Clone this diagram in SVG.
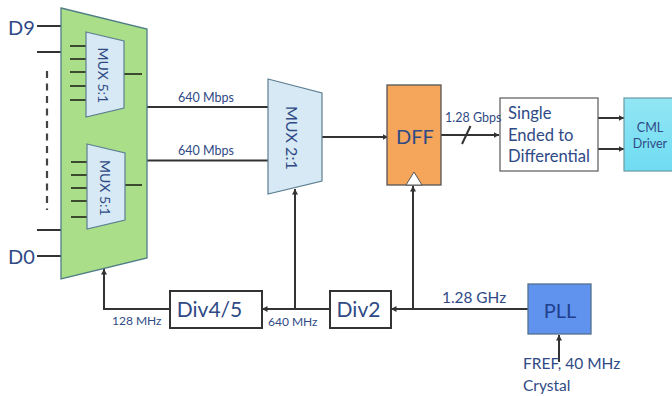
<svg xmlns="http://www.w3.org/2000/svg" width="672" height="396" viewBox="0 0 672 396">
<defs>
<marker id="ah" markerUnits="userSpaceOnUse" markerWidth="8" markerHeight="8" refX="5.500" refY="3" orient="auto"><path d="M0 0L5.500 3L0 6z" fill="#333"/></marker>
<linearGradient id="cml" x1="0" y1="0" x2="0" y2="1"><stop offset="0" stop-color="#92e6f4"/><stop offset="1" stop-color="#6fdcf2"/></linearGradient>
</defs>
<style>
text{font-family:"Lato","Open Sans","Liberation Sans",sans-serif;fill:#2f4a85}
.l{stroke:#333;stroke-width:2;fill:none}
.a{marker-end:url(#ah)}
.pin{stroke:#3c4a30;stroke-width:1.8;fill:none}
.mux{fill:#d6e9f4;stroke:#5c7f92;stroke-width:1.2}
.box{fill:#fff;stroke:#333;stroke-width:2}
.s{font-size:12.500px}
.m{font-size:21px}
</style>
<rect width="672" height="396" fill="#fff"/>
<g id="connectors">
<path class="l" d="M37 26H61M37 52H61M37 230H61M37 256H61"/>
<path d="M47 71V210" stroke="#444" stroke-width="2.200" stroke-dasharray="7 5.500" fill="none"/>
<path class="l" d="M147 107H268M147 160.500H268"/>
<path class="l a" d="M322 137H388"/>
<path class="l a" d="M441 135H499"/>
<path class="l" d="M462 144L470.500 126" stroke-width="1.800"/>
<path class="l a" d="M598 118H624"/>
<path class="l a" d="M598 149H624"/>
<path class="l a" d="M413 309V186"/>
<path class="l a" d="M528 309H391"/>
<path class="l a" d="M330 309H262"/>
<path class="l a" d="M295 309V189"/>
<path class="l a" d="M170 309H104V269"/>
<path class="l a" d="M559 362V335" stroke-width="1.600"/>
</g>
<g id="mux-outer"><path d="M61 8L147 29V258L61 279z" fill="#aade88" stroke="#4f7f86" stroke-width="1.300"/></g>
<g id="mux-a">
<path class="pin" d="M70 46H86M70 59H86M70 72H86M70 86H86M70 100H86M124 74H142"/>
<path class="mux" d="M86 32L124 41V108L86 117z"/>
<text transform="translate(98 47.500) rotate(90)" style="font-size:14px">MUX 5:1</text>
</g>
<g id="mux-b">
<path class="pin" d="M71 162H87M71 175H87M71 188H87M71 201H87M71 217H87M125 185H142"/>
<path class="mux" d="M87 144L125 153V220L87 229z"/>
<text transform="translate(99.500 160) rotate(90)" style="font-size:14px">MUX 5:1</text>
</g>
<g id="mux-2"><path class="mux" d="M268 79L322 93V181L268 194z"/><text transform="translate(286 106) rotate(90)" style="font-size:16px">MUX 2:1</text></g>
<g id="dff"><rect x="387" y="85" width="54" height="100" fill="#f5a65b" stroke="#555" stroke-width="1.300"/><path d="M406 185L414 172L422 185z" fill="#fff" stroke="#555" stroke-width="1"/><text x="415" y="144" text-anchor="middle" style="font-size:20px">DFF</text></g>
<g id="s2d"><rect x="500" y="98" width="98" height="73" fill="#fff" stroke="#666" stroke-width="1.300"/><text x="508" y="119" style="font-size:16.600px">Single</text><text x="508" y="141" style="font-size:16.600px">Ended to</text><text x="508" y="162" style="font-size:16.600px">Differential</text></g>
<g id="cml-driver"><rect x="624" y="98" width="50" height="73" fill="url(#cml)" stroke="#6a9aa5" stroke-width="1.200"/><text x="650" y="132" text-anchor="middle" style="font-size:12.500px">CML</text><text x="650" y="148" text-anchor="middle" style="font-size:12.500px">Driver</text></g>
<g id="div45"><rect x="170" y="291" width="92" height="37" class="box"/><text x="209.500" y="317" text-anchor="middle" class="m">Div4/5</text></g>
<g id="div2"><rect x="330" y="291" width="61" height="37" class="box"/><text x="358.500" y="317" text-anchor="middle" class="m">Div2</text></g>
<g id="pll"><rect x="528" y="284" width="63" height="50" fill="#5f93ee" stroke="#54708f" stroke-width="1.300"/><text x="560" y="318" text-anchor="middle" style="font-size:20px;fill:#1f3f8f">PLL</text></g>
<g id="labels">
<text x="8" y="35" style="font-size:20px">D9</text>
<text x="8" y="264" style="font-size:20px">D0</text>
<text x="178" y="102" class="s">640 Mbps</text>
<text x="178" y="154.500" class="s">640 Mbps</text>
<text x="445" y="122" class="s">1.28 Gbps</text>
<text x="442" y="303" style="font-size:15.400px">1.28 GHz</text>
<text x="112" y="325" style="font-size:12px">128 MHz</text>
<text x="268" y="326" style="font-size:12px">640 MHz</text>
<text x="523" y="369" style="font-size:15.500px">FREF, 40 MHz</text>
<text x="523" y="391" style="font-size:15.500px">Crystal</text>
</g>
</svg>
